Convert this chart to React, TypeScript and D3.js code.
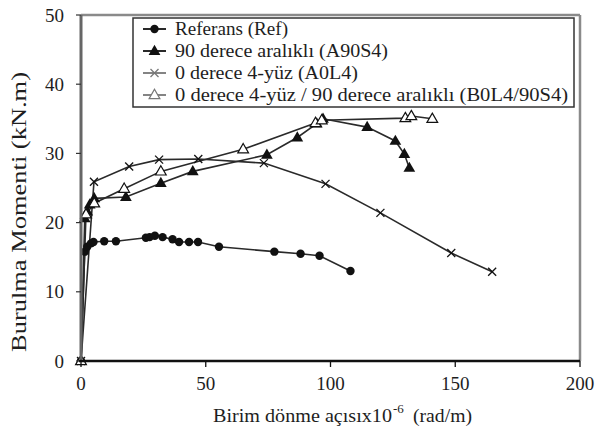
import React from "react";
import * as d3 from "d3";

const W = 603;
const H = 446;

const xTicks = [0, 50, 100, 150, 200];
const yTicks = [0, 10, 20, 30, 40, 50];

const seriesNames = [
  "Referans (Ref)",
  "90 derece aralıklı (A90S4)",
  "0 derece 4-yüz (A0L4)",
  "0 derece 4-yüz / 90 derece aralıklı (B0L4/90S4)",
];

const refData: [number, number][] = [
  [0, 0], [1.5, 15.8], [2.5, 16.5], [4, 17.0], [5, 17.2], [9.3, 17.3], [14, 17.3],
  [26, 17.8], [27.5, 17.9], [29.6, 18.1], [32.7, 17.9], [36.7, 17.6], [39.3, 17.2],
  [43.3, 17.2], [46.9, 17.2], [55.3, 16.5], [77.5, 15.8], [88, 15.5], [95.6, 15.2], [108, 13.0],
];

const a90Data: [number, number][] = [
  [0, 0], [1.5, 20.6], [2.5, 21.6], [3.5, 22.6], [5.3, 23.5], [18, 23.7], [32, 25.7],
  [44.8, 27.4], [74.5, 29.8], [86.7, 32.3], [94.5, 34.3], [97, 35.0], [114.7, 33.8],
  [126, 31.8], [129.6, 29.9], [131.6, 27.9],
];

const a0Data: [number, number][] = [
  [0, 0], [5.2, 25.9], [19.3, 28.1], [31.3, 29.1], [47, 29.2], [73.3, 28.6],
  [98, 25.6], [120, 21.4], [148.4, 15.6], [164.8, 12.9],
];

const b0Data: [number, number][] = [
  [0, 0], [2, 21.2], [5.3, 22.8], [17.3, 24.9], [32, 27.4], [65, 30.6], [94, 34.4],
  [96.5, 34.8], [130, 35.1], [132.4, 35.4], [140.8, 35.0],
];

const x = d3.scaleLinear().domain([0, 200]).range([81, 580]);
const y = d3.scaleLinear().domain([0, 50]).range([361, 15]);
const line = d3.line<[number, number]>().x((d) => x(d[0])).y((d) => y(d[1]));

const TXT = "#1e1e1e";
const FONT: React.CSSProperties = { fontFamily: "'Liberation Serif', 'DejaVu Serif', 'Times New Roman', serif" };

function Marker({ kind, cx, cy, legend }: { kind: number; cx: number; cy: number; legend?: boolean }) {
  const col = legend && kind >= 2 ? "#777" : "#111";
  if (kind === 0) return <circle cx={cx} cy={cy} r={4.2} fill={col} />;
  if (kind === 1) {
    const p = d3.symbol(d3.symbolTriangle, 60)();
    return <path d={p || ""} transform={`translate(${cx},${cy + 0.5})`} fill={col} />;
  }
  if (kind === 2) {
    const s = 4;
    return (
      <g stroke={col} strokeWidth={1.3}>
        <line x1={cx - s} y1={cy - s} x2={cx + s} y2={cy + s} />
        <line x1={cx - s} y1={cy + s} x2={cx + s} y2={cy - s} />
      </g>
    );
  }
  const p = d3.symbol(d3.symbolTriangle, 50)();
  return <path d={p || ""} transform={`translate(${cx},${cy + 0.5})`} fill="#fff" stroke={col} strokeWidth={1.2} />;
}

export default function App() {
  const all = [refData, a90Data, a0Data, b0Data];
  const legendY = [29, 51, 73, 95];
  const legendLen = [113, 213, 183, 393];
  return (
    <svg
      width={W}
      height={H}
      style={{ position: "absolute", left: 0, top: 0, background: "#fff" }}
    >
      <rect x={0} y={0} width={W} height={H} fill="#fff" />
      {/* frame */}
      <line x1={x(0)} y1={y(50)} x2={580} y2={y(50)} stroke="#8a8a8a" strokeWidth={2.5} />
      <line x1={580} y1={y(50)} x2={580} y2={y(0)} stroke="#8a8a8a" strokeWidth={2.5} />

      {/* series */}
      {all.map((d, i) => (
        <path key={"l" + i} d={line(d) || ""} fill="none" stroke="#2a2a2a" strokeWidth={1.6} />
      ))}
      {all.map((d, i) =>
        d.map((p, j) => <Marker key={`m${i}-${j}`} kind={i} cx={x(p[0])} cy={y(p[1])} />)
      )}

      {/* y axis */}
      <line x1={x(0)} y1={y(50)} x2={x(0)} y2={y(0)} stroke="#666" strokeWidth={3} />
      {yTicks.map((t) => (
        <g key={"yt" + t}>
          <line x1={x(0) - 5} x2={x(0)} y1={y(t)} y2={y(t)} stroke="#333" strokeWidth={1.2} />
          <text x={64} y={y(t)} dy="0.35em" textAnchor="end" fontSize={19} fill={TXT} style={FONT}>
            {t}
          </text>
        </g>
      ))}
      {/* x axis */}
      <line x1={x(0) - 2} y1={y(0)} x2={580} y2={y(0)} stroke="#111" strokeWidth={2.5} />
      {xTicks.map((t) => (
        <g key={"xt" + t}>
          <line x1={x(t)} x2={x(t)} y1={y(0)} y2={y(0) + 6} stroke="#111" strokeWidth={1.3} />
          <text x={x(t)} y={390} textAnchor="middle" fontSize={19} fill={TXT} style={FONT}>
            {t}
          </text>
        </g>
      ))}

      {/* axis titles */}
      <text
        transform="translate(26,212) rotate(-90)"
        textAnchor="middle"
        fontSize={20}
        fill={TXT}
        style={FONT}
        textLength={280}
        lengthAdjust="spacingAndGlyphs"
      >
        Burulma Momenti (kN.m)
      </text>
      <text x={213} y={422} fontSize={19} fill={TXT} style={FONT} textLength={179} lengthAdjust="spacingAndGlyphs">
        Birim dönme açısıx10
      </text>
      <text x={393} y={413} fontSize={13} fill={TXT} style={FONT}>
        -6
      </text>
      <text x={413} y={422} fontSize={19} fill={TXT} style={FONT} textLength={59} lengthAdjust="spacingAndGlyphs">
        (rad/m)
      </text>

      {/* legend */}
      <rect x={133} y={18} width={441} height={89} fill="#fff" stroke="#333" strokeWidth={1.5} />
      {seriesNames.map((n, i) => (
        <g key={"lg" + i}>
          <line
            x1={143}
            x2={166}
            y1={legendY[i]}
            y2={legendY[i]}
            stroke={i >= 2 ? "#777" : "#111"}
            strokeWidth={1.8}
          />
          <Marker kind={i} cx={154.5} cy={legendY[i]} legend />
          <text
            x={175}
            y={legendY[i] + 6}
            fontSize={18}
            fill={TXT}
            style={FONT}
            textLength={legendLen[i]}
            lengthAdjust="spacingAndGlyphs"
          >
            {n}
          </text>
        </g>
      ))}
    </svg>
  );
}
